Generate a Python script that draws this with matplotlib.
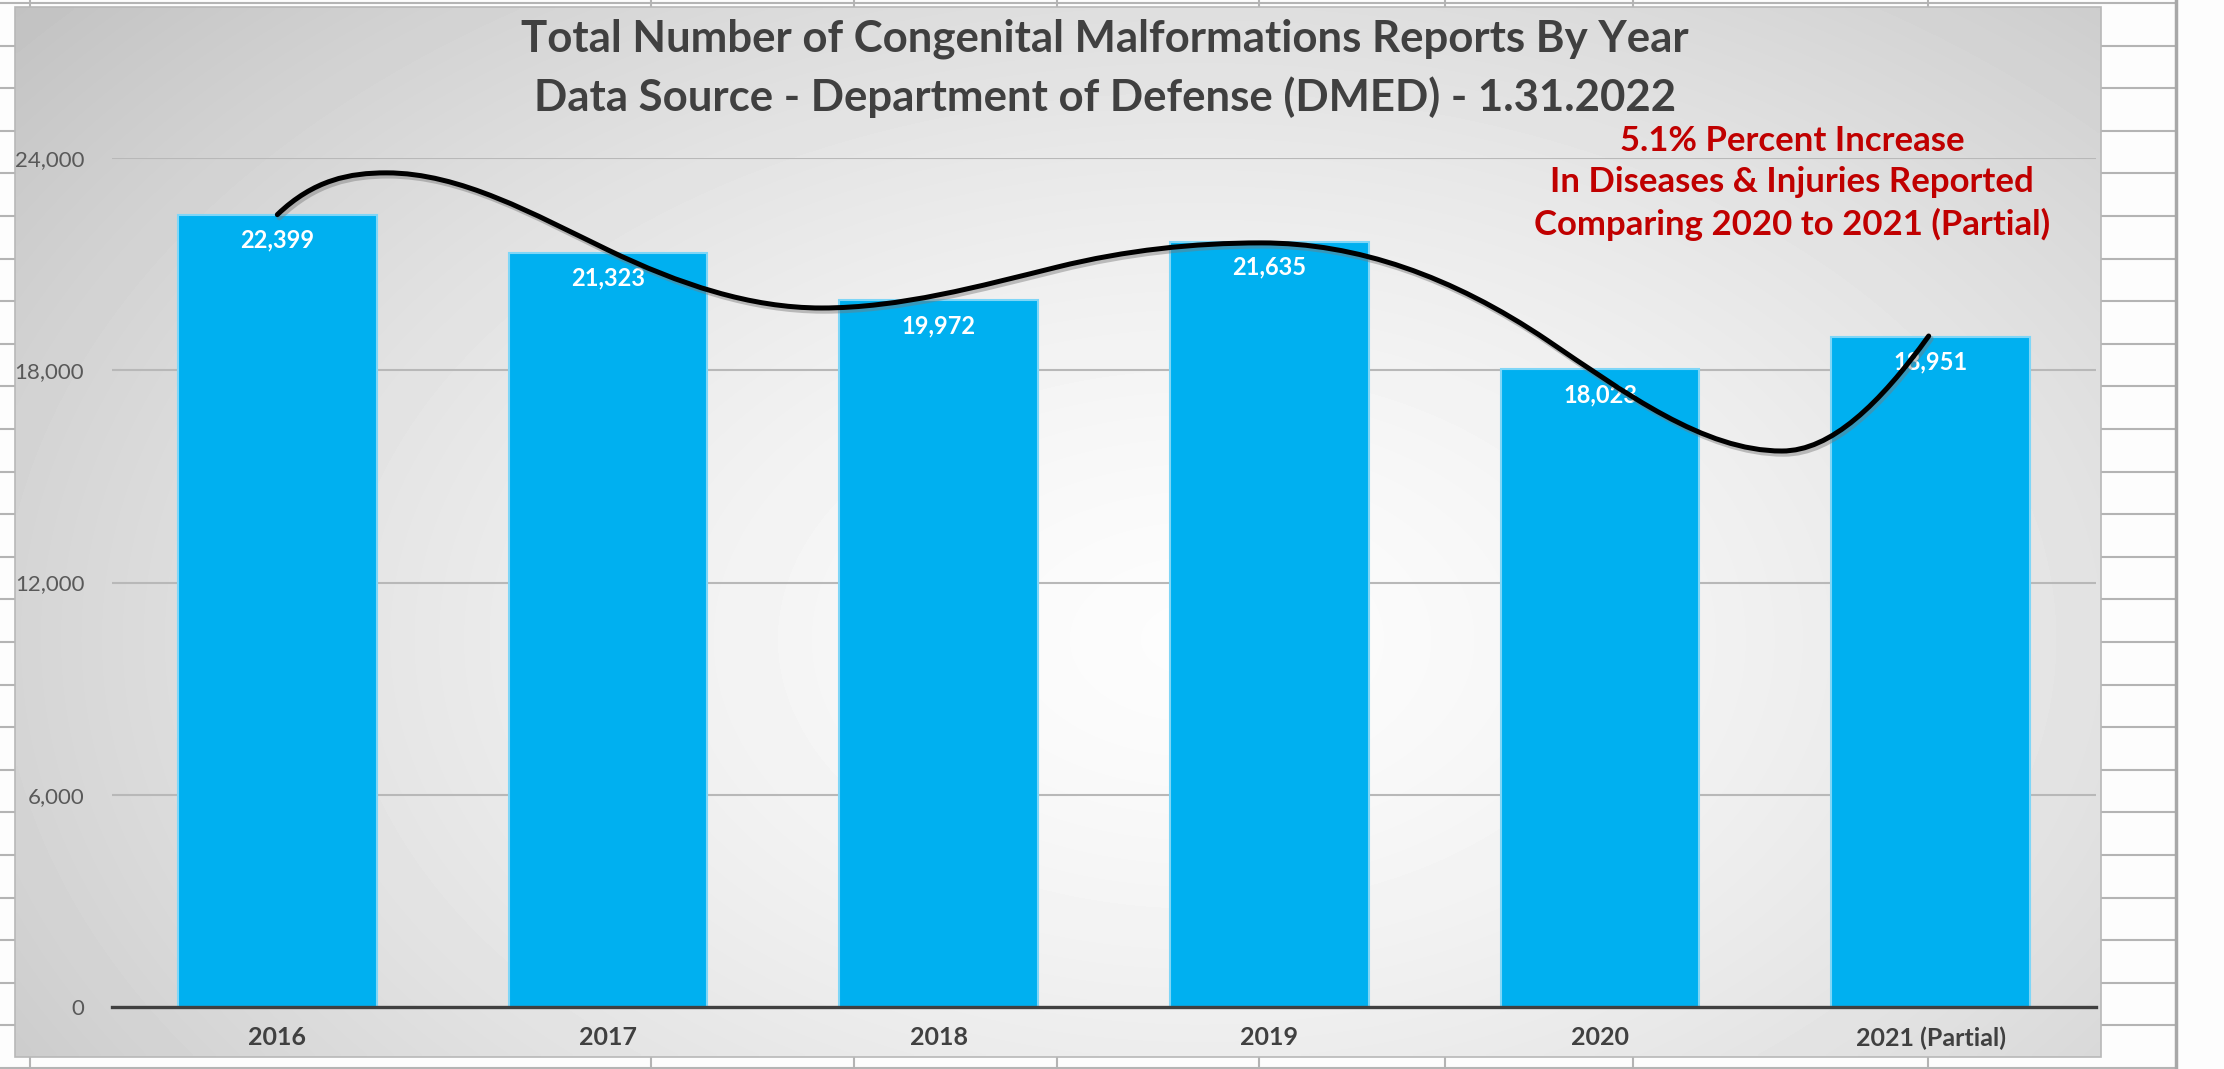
import matplotlib
matplotlib.use("Agg")
import matplotlib.pyplot as plt
import matplotlib.patheffects as pe
from matplotlib.path import Path
from matplotlib.patches import PathPatch, Rectangle
import numpy as np

plt.rcParams['font.family'] = ['Lato', 'DejaVu Sans']

# data
years = ["2016", "2017", "2018", "2019", "2020", "2021 (Partial)"]
reports = [22399, 21323, 19972, 21635, 18023, 18951]
y_ticks = [0, 6000, 12000, 18000, 24000]

# freehand trend curve drawn over the bars
curve_x = [0.0, 0.33, 1.0, 1.646, 2.36, 2.976, 3.84, 4.55, 4.994]
curve_y = [22399, 23580, 21400, 19760, 20920, 21600, 18850, 15717, 18968]
curve_slope = [9000, 0, -4500, 0, 2300, 0, -6300, 0, 13000]

title = ("Total Number of Congenital Malformations Reports By Year\n"
         "Data Source - Department of Defense (DMED) - 1.31.2022")
note = ("5.1% Percent Increase\n"
        "In Diseases & Injuries Reported\n"
        "Comparing 2020 to 2021 (Partial)")

W, H = 2224, 1069
fig = plt.figure(figsize=(W / 100, H / 100), dpi=100)
fig.patch.set_facecolor("#fdfdfd")

# spreadsheet behind the chart
bg = fig.add_axes([0, 0, 1, 1])
bg.set_xlim(0, W)
bg.set_ylim(H, 0)
bg.axis("off")
for yy in np.arange(3, H, 42.6):
    bg.plot([0, 2176], [yy, yy], color="#b4b4b4", lw=1.5, zorder=1)
for xx in [30, 651, 854, 1057, 1259, 1445, 1633, 1928]:
    bg.plot([xx, xx], [0, H], color="#b4b4b4", lw=1.5, zorder=1)
bg.plot([2176, 2176], [0, H], color="#a8a8a8", lw=2.5, zorder=1)

# chart area with radial grey gradient
cx0, cx1, cy0, cy1 = 15, 2101, 7, 1057
gx, gy = np.meshgrid(np.linspace(cx0, cx1, 400), np.linspace(cy0, cy1, 200))
d = np.sqrt(((gx - 1200) / 1250) ** 2 + ((gy - 640) / 800) ** 2)
d = np.clip(d / d.max(), 0, 1)
shade = 0.99 - (0.99 - 0.76) * d ** 1.5
bg.imshow(shade, cmap="gray", vmin=0, vmax=1, extent=[cx0, cx1, cy1, cy0],
          aspect="auto", zorder=2, interpolation="bilinear")
bg.add_patch(Rectangle((cx0, cy0), cx1 - cx0, cy1 - cy0, fill=False,
                       edgecolor="#b8b8b8", lw=1.2, zorder=3))
bg.set_xlim(0, W)
bg.set_ylim(H, 0)

# main plot
ax = fig.add_axes([112 / W, 62 / H, 1984 / W, 849 / H])
ax.patch.set_alpha(0)
x = np.arange(len(years))
bars = ax.bar(x, reports, width=0.6, color="#00b0f0", edgecolor="#7fd6f7",
              linewidth=1.5, zorder=3)
for xi, v in zip(x, reports):
    ax.annotate(f"{v:,}", (xi, v), xytext=(0, -18), textcoords="offset points",
                ha="center", va="center", color="white", fontsize=17,
                fontweight="bold", zorder=4)

# freehand curve as cubic bezier segments
verts = [(curve_x[0], curve_y[0])]
codes = [Path.MOVETO]
for i in range(len(curve_x) - 1):
    dx = (curve_x[i + 1] - curve_x[i]) / 3
    verts += [(curve_x[i] + dx, curve_y[i] + dx * curve_slope[i]),
              (curve_x[i + 1] - dx, curve_y[i + 1] - dx * curve_slope[i + 1]),
              (curve_x[i + 1], curve_y[i + 1])]
    codes += [Path.CURVE4] * 3
curve = PathPatch(Path(verts, codes), fill=False, edgecolor="black", lw=3.6,
                  capstyle="round", zorder=6)
curve.set_path_effects([pe.Stroke(offset=(1.5, -2), foreground="#7a7a7a",
                                  alpha=0.45, linewidth=4.2),
                        pe.Normal()])
ax.add_patch(curve)

ax.set_xlim(-0.5, len(years) - 0.5)
ax.set_ylim(0, 24000)
ax.set_yticks(y_ticks)
ax.set_yticklabels([f"{t:,}" for t in y_ticks])
for t in y_ticks[1:]:
    ax.axhline(t, color="#b8b8b8", lw=1.5, zorder=1)
ax.set_xticks(x)
ax.set_xticklabels(years)
ax.tick_params(axis="y", length=0, pad=20, labelsize=16, labelcolor="#595959")
ax.tick_params(axis="x", length=0, pad=14, labelsize=18, labelcolor="#404040")
for lbl in ax.get_xticklabels():
    lbl.set_fontweight("bold")
for s in ["top", "right", "left"]:
    ax.spines[s].set_visible(False)
ax.spines["bottom"].set_color("#404040")
ax.spines["bottom"].set_linewidth(2.4)
ax.spines["bottom"].set_zorder(5)

fig.text(1105 / W, 1 - 68 / H, title, ha="center", va="center", fontsize=31.5,
         fontweight="bold", color="#404040", linespacing=1.5)
fig.text(1792 / W, 1 - 183 / H, note, ha="center", va="center", fontsize=25,
         fontweight="bold", color="#c00000", linespacing=1.35)

fig.savefig("out.png", dpi=100)
